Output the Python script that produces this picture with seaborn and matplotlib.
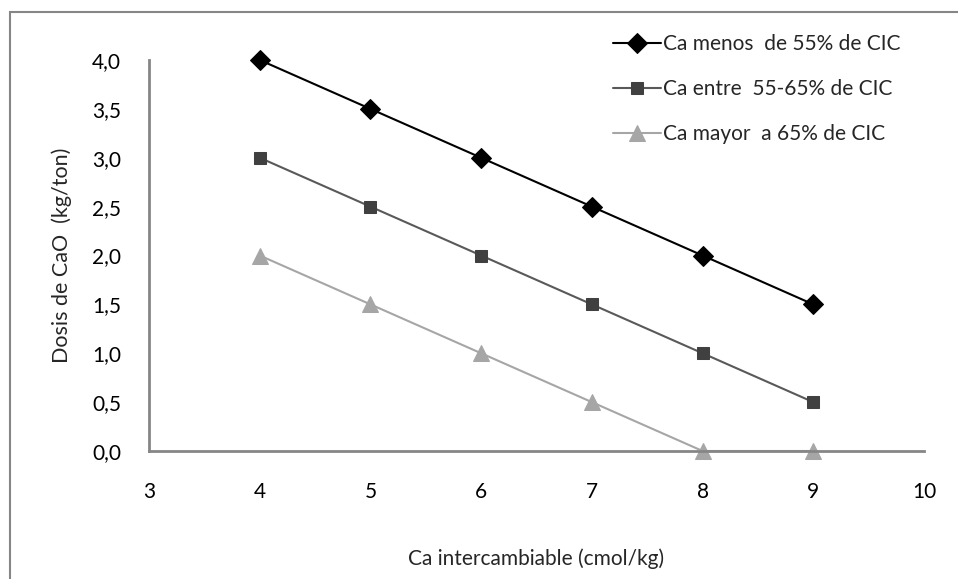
import numpy as np
import pandas as pd
import seaborn as sns
import matplotlib.pyplot as plt
from matplotlib.patches import Rectangle
from matplotlib.ticker import FuncFormatter

ca_exch = [4, 5, 6, 7, 8, 9]
menos_55 = [4.0, 3.5, 3.0, 2.5, 2.0, 1.5]
entre_55_65 = [3.0, 2.5, 2.0, 1.5, 1.0, 0.5]
mayor_65 = [2.0, 1.5, 1.0, 0.5, 0.0, 0.0]
labels = ["Ca menos  de 55% de CIC", "Ca entre  55-65% de CIC", "Ca mayor  a 65% de CIC"]

sns.set_style("white")
plt.rcParams['font.family'] = ['Lato', 'DejaVu Sans']

fig = plt.figure(figsize=(9.58, 5.79), dpi=100)
ax = fig.add_axes([149 / 958, 1 - 451 / 579, (924 - 149) / 958, (451 - 60) / 579])

# chart area border (cropped at right and bottom)
fig.patches.append(Rectangle((10 / 958, -0.1), 1.2, 1 - 12 / 579 + 0.1,
                             transform=fig.transFigure, fill=False,
                             edgecolor='#868686', lw=1.5, zorder=0))

gray = '#868686'
styles = [
    dict(color='black', marker='D', markersize=10, mfc='black', mec='black'),
    dict(color='#595959', marker='s', markersize=8, mfc='#404040', mec='#404040'),
    dict(color='#A6A6A6', marker='^', markersize=11.5, mfc='#A6A6A6', mec='#A6A6A6'),
]
for ys, lab, st in zip([menos_55, entre_55_65, mayor_65], labels, styles):
    df = pd.DataFrame({'x': ca_exch, 'y': ys})
    sns.lineplot(data=df, x='x', y='y', ax=ax, label=lab, lw=1.5, clip_on=False, **st)

ax.set_xlim(3, 10)
ax.set_ylim(0, 4)
ax.set_xticks(range(3, 11))
ax.set_yticks(np.arange(0, 4.01, 0.5))
ax.yaxis.set_major_formatter(FuncFormatter(lambda v, p: f"{v:.1f}".replace('.', ',')))

for s in ['top', 'right']:
    ax.spines[s].set_visible(False)
for s in ['left', 'bottom']:
    ax.spines[s].set_color(gray)
    ax.spines[s].set_linewidth(2)
ax.tick_params(axis='both', direction='out', length=6, width=1.2, color=gray,
               labelsize=15, labelcolor='black')
ax.tick_params(axis='x', pad=16)
ax.tick_params(axis='y', pad=14)

ax.set_xlabel("Ca intercambiable (cmol/kg)", fontsize=15)
ax.set_ylabel("Dosis de CaO  (kg/ton)", fontsize=15.5)
ax.xaxis.set_label_coords(0.5, -0.25)
ax.yaxis.set_label_coords(-0.1, 0.5)

leg = ax.legend(loc='upper left', bbox_to_anchor=(0.575, 1.114), frameon=False,
                fontsize=15, handlelength=2.3, handletextpad=0.1, labelspacing=1.2)

fig.savefig("out.png", dpi=100)
